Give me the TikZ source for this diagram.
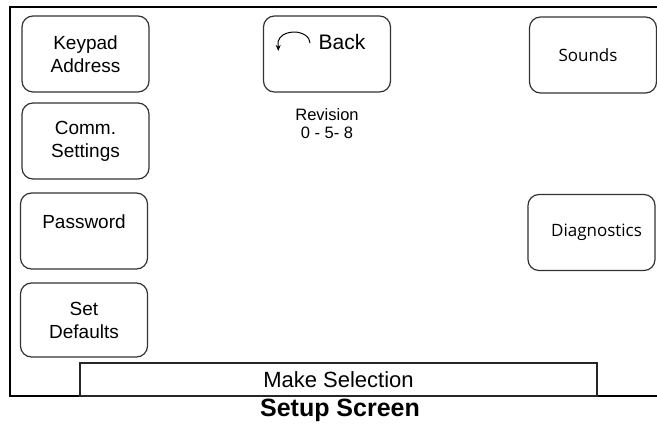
\documentclass[tikz,border=0pt]{standalone}
\usepackage{fontspec}
\setmainfont{Liberation Sans}
\newfontfamily\humanfont{Open Sans}
\usetikzlibrary{arrows.meta}

\tikzset{
  btn/.style={draw=black!80, line width=1.2pt, rounded corners=11pt,
    minimum width=127pt, minimum height=76pt, align=center,
    font=\fontsize{19}{23}\selectfont},
  btnsoft/.style={btn, font=\humanfont\fontsize{17}{21}\selectfont},
  bar/.style={draw=black!85, line width=1.4pt, minimum width=517pt,
    minimum height=33pt, font=\fontsize{22}{26}\selectfont}
}

\begin{document}
\begin{tikzpicture}[x=1pt,y=-1pt]
        \useasboundingbox (0,0) rectangle (657,426);
        % screen frame, open on the right
        \coordinate (TL) at (10,7);
        \coordinate (BL) at (10,396);
        \draw[line width=2pt] (657,7) -- (TL) -- (BL) -- (657,396);
        % left column
        \node[btn] (keypad) at (85.5,54) {Keypad\\Address};
        \node[btn] (comm) at (85.5,141) {Comm.\\Settings};
        \node[btn, text depth=20pt, text height=14pt] (pwd) at (84,231) {Password};
        \node[btn, minimum height=74pt] (defaults) at (84,320) {Set\\Defaults};
        % back button
        \node[btn] (back) at (327,54) {};
        \node[font=\fontsize{21}{25}\selectfont] (backtxt) at (342,42) {Back};
        \coordinate (arcstart) at (310,43);
        \draw[line width=1pt, -{Stealth[length=6pt,width=5pt]}]
            (arcstart) arc[start angle=0, end angle=-190, x radius=16, y radius=11] -- ++(0,6);
        \node[align=center, font=\fontsize{16.5}{18}\selectfont] (rev) at (327,124) {Revision\\0 - 5- 8};
        % right column
        \node[btnsoft] (sounds) at (593,55) {Sounds\hspace*{10pt}};
        \node[btnsoft] (diag) at (591.5,232.5) {\hspace*{10pt}Diagnostics};
        % prompt bar and title
        \node[bar] (prompt) at (338.5,379.5) {Make Selection};
        \node[font=\bfseries\fontsize{25}{29}\selectfont] (title) at (340,410) {Setup Screen};
    \end{tikzpicture}
\end{document}
